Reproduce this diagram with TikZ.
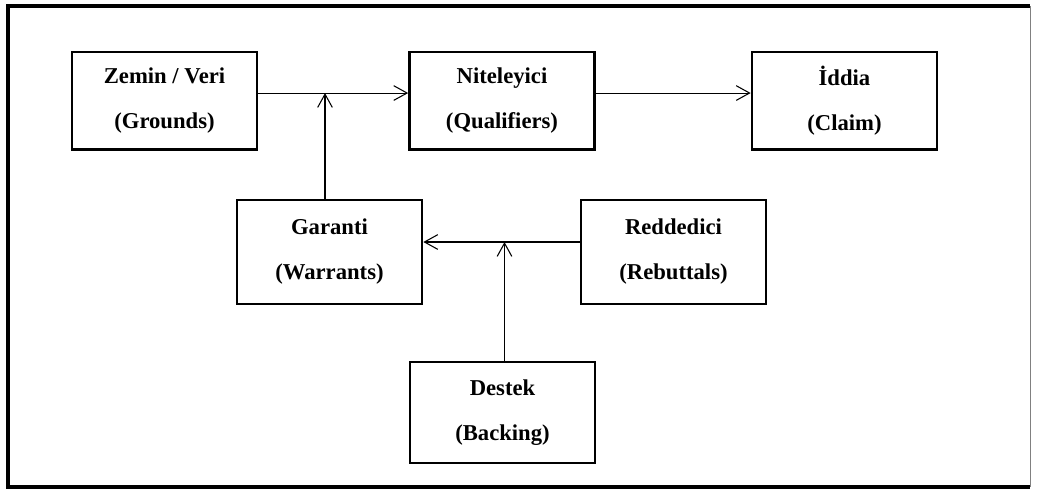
\documentclass[tikz,border=0pt]{standalone}
\usepackage{fontspec}
\setmainfont{Liberation Serif}
\usetikzlibrary{arrows.meta}
\begin{document}
\begin{tikzpicture}[x=0.75pt,y=-0.75pt,
  box/.style={draw,line width=2pt,minimum width=138.75pt,minimum height=73pt,
    align=center,inner sep=0pt,font=\bfseries\fontsize{17}{20}\selectfont},
  arr/.style={line width=0.8pt,-{Straight Barb[length=10pt,width=11pt,line width=0.8pt]}}]
\useasboundingbox (0,0) rectangle (1040,490);

% frame
\draw[line width=2.4pt] (1030,6) -- (8,6) -- (8,487) -- (1030,487);
\draw[gray,line width=0.6pt] (1030,6) -- (1030,487);

\node[box] (zemin) at (164.5,100.5) {Zemin / Veri\\[13.75pt](Grounds)};

\node[box] (niteleyici) at (502,100.5) {Niteleyici\\[13.75pt](Qualifiers)};

\node[box] (iddia) at (844.5,100.5) {İddia\\[13.75pt](Claim)};

\node[box,minimum height=78pt] (garanti) at (329.5,252) {Garanti\\[13.75pt](Warrants)};
\node[box,minimum height=78pt] (reddedici) at (673.5,252) {Reddedici\\[13.75pt](Rebuttals)};

\node[box,minimum height=75.75pt] (destek) at (502.5,412.5) {Destek\\[13.75pt](Backing)};

\coordinate (gj) at (325,93);
\coordinate (dj) at (504.5,242);

\draw[arr] ([yshift=5.6pt]zemin.east) -- ([yshift=5.6pt]niteleyici.west);
\draw[arr] ([yshift=5.6pt]niteleyici.east) -- ([yshift=5.6pt]iddia.west);
\draw[arr] (garanti.north -| gj) -- (gj);

\draw[arr] ([yshift=7.5pt]reddedici.west) -- ([yshift=7.5pt]garanti.east);
\draw[arr] (destek.north -| dj) -- (dj);
\end{tikzpicture}
\end{document}
